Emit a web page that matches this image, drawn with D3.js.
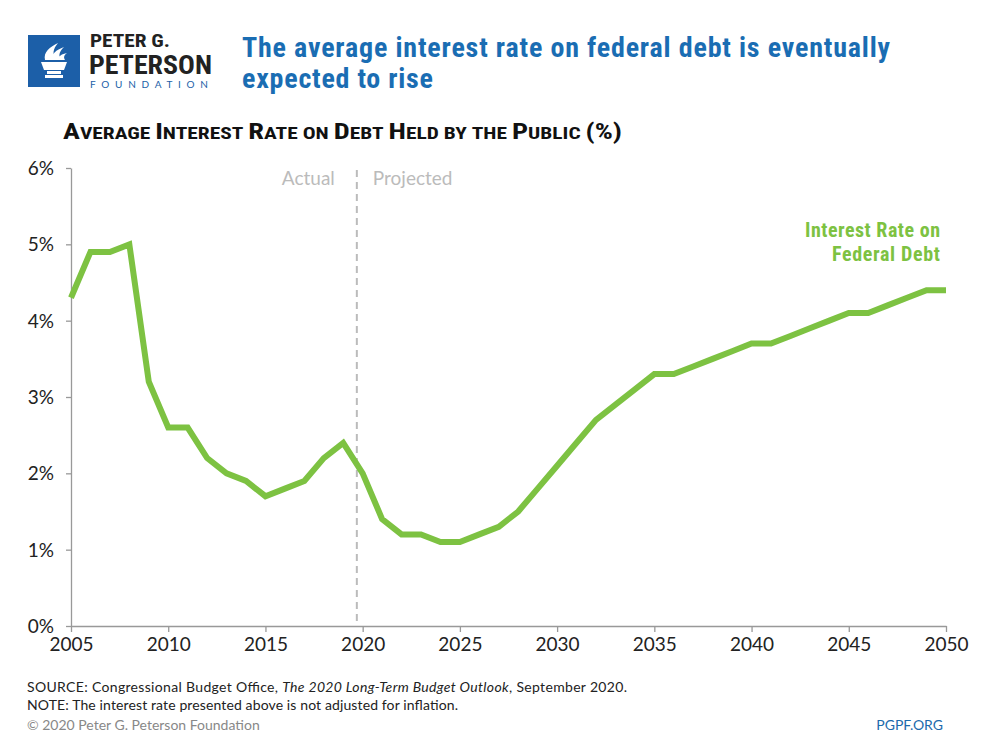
<!DOCTYPE html>
<html><head><meta charset="utf-8">
<script src="https://cdn.jsdelivr.net/npm/d3@7"></script>
<style>body{margin:0;background:#fff}svg{display:block}</style>
</head><body>
<script>
const years = d3.range(2005, 2051);
const rates = [4.3,4.9,4.9,5.0,3.2,2.6,2.6,2.2,2.0,1.9,1.7,1.8,1.9,2.2,2.4,2.0,1.4,1.2,1.2,1.1,1.1,1.2,1.3,1.5,1.8,2.1,2.4,2.7,2.9,3.1,3.3,3.3,3.4,3.5,3.6,3.7,3.7,3.8,3.9,4.0,4.1,4.1,4.2,4.3,4.4,4.4];
const xTicks = [2005,2010,2015,2020,2025,2030,2035,2040,2045,2050];
const yTicks = [0,1,2,3,4,5,6];
const dividerYear = 2019.7;

const W=1000,H=750;
const svg=d3.select("body").append("svg").attr("width",W).attr("height",H);
const x=d3.scaleLinear().domain([2005,2050]).range([71,946]);
const y=d3.scaleLinear().domain([0,6]).range([626,168]);
const cond="'Liberation Sans Narrow','Roboto Condensed',sans-serif";
const sans="Lato,'Open Sans',sans-serif";

// Logo
const lg=svg.append("g");
lg.append("rect").attr("x",28).attr("y",35).attr("width",52).attr("height",52).attr("fill","#1c5fa8");
lg.append("path").attr("d","M41,62 L67,62 L64,70 L44,70 Z").attr("fill","#fff");
lg.append("rect").attr("x",47).attr("y",71).attr("width",14).attr("height",3).attr("fill","#fff");
lg.append("rect").attr("x",45).attr("y",75).attr("width",18).attr("height",3).attr("fill","#fff");
lg.append("path").attr("d","M45,60 C43,52 50,47 58,43 C53,49 52,54 56,60 Z").attr("fill","#fff");
lg.append("path").attr("d","M52,60 C51,54 56,50 64,47 C58,53 59,56 61,60 Z").attr("fill","#fff");
lg.append("path").attr("d","M58,60 C58,56 62,54 67,53 C63,56 64,58 65,60 Z").attr("fill","#fff");
lg.append("text").attr("x",90).attr("y",47).attr("font-family",cond).attr("font-weight","bold").attr("font-size",18.5).attr("fill","#222").attr("textLength",80).attr("lengthAdjust","spacingAndGlyphs").text("PETER G.");
lg.append("text").attr("x",89).attr("y",74).attr("font-family",cond).attr("font-weight","bold").attr("font-size",26).attr("fill","#222").attr("textLength",123).attr("lengthAdjust","spacingAndGlyphs").text("PETERSON");
lg.append("text").attr("x",90).attr("y",88).attr("font-family",sans).attr("font-size",10).attr("fill","#1c5fa8").attr("textLength",121).attr("letter-spacing",3).text("FOUNDATION");

// Title
svg.append("text").attr("x",242).attr("y",57).attr("font-family",cond).attr("font-weight","bold").attr("font-size",28).attr("fill","#1a6db3").attr("textLength",648).text("The average interest rate on federal debt is eventually");
svg.append("text").attr("x",242).attr("y",88).attr("font-family",cond).attr("font-weight","bold").attr("font-size",28).attr("fill","#1a6db3").attr("textLength",191).text("expected to rise");

// Subtitle (manual small caps)
const subtitle="Average Interest Rate on Debt Held by the Public (%)";
const st=svg.append("text").attr("x",63).attr("y",139).attr("font-family",cond).attr("font-weight","bold").attr("fill","#111").attr("textLength",559).attr("lengthAdjust","spacingAndGlyphs");
subtitle.split("").forEach(ch=>{
  const big = ch!==ch.toLowerCase() || /[()%]/.test(ch);
  st.append("tspan").attr("font-size",big?22.5:17).text(ch===" "?"\u00a0":ch.toUpperCase());
});

// Axes
const ya=svg.append("g").attr("transform","translate(71,0)").call(d3.axisLeft(y).tickValues(yTicks).tickFormat(d=>d+"%").tickSize(5).tickSizeOuter(0));
const xa=svg.append("g").attr("transform","translate(0,626)").call(d3.axisBottom(x).tickValues(xTicks).tickFormat(d3.format("d")).tickSize(6).tickSizeOuter(0));
[ya,xa].forEach(a=>{a.selectAll("path,line").attr("stroke","#999").attr("stroke-width",1.3);
 a.selectAll("text").attr("font-family",sans).attr("font-size",19).attr("fill","#222");});
ya.selectAll("text").attr("x",-17).attr("dy","0.35em");
xa.selectAll("text").attr("y",12).attr("dy","0.71em");

// Divider
svg.append("line").attr("x1",x(dividerYear)).attr("x2",x(dividerYear)).attr("y1",170).attr("y2",626).attr("stroke","#bbb").attr("stroke-width",2).attr("stroke-dasharray","7,5");
svg.append("text").attr("x",x(dividerYear)-22).attr("y",185).attr("text-anchor","end").attr("font-family",sans).attr("font-size",19).attr("fill","#bbb").text("Actual");
svg.append("text").attr("x",x(dividerYear)+16).attr("y",185).attr("font-family",sans).attr("font-size",19).attr("fill","#bbb").text("Projected");

// Line
const line=d3.line().x((d,i)=>x(years[i])).y(d=>y(d));
svg.append("path").datum(rates).attr("d",line).attr("fill","none").attr("stroke","#7dc242").attr("stroke-width",6).attr("stroke-linejoin","miter");

svg.append("text").attr("x",940).attr("y",237).attr("text-anchor","end").attr("font-family",cond).attr("font-weight","bold").attr("font-size",20).attr("fill","#7dc242").attr("textLength",135).text("Interest Rate on");
svg.append("text").attr("x",940).attr("y",261).attr("text-anchor","end").attr("font-family",cond).attr("font-weight","bold").attr("font-size",20).attr("fill","#7dc242").attr("textLength",108).text("Federal Debt");

// Footer
const ft=svg.append("text").attr("x",27).attr("y",692).attr("font-family",sans).attr("font-size",14).attr("fill","#222").attr("textLength",600);
ft.append("tspan").text("SOURCE: Congressional Budget Office, ");
ft.append("tspan").attr("font-style","italic").text("The 2020 Long-Term Budget Outlook");
ft.append("tspan").text(", September 2020.");
svg.append("text").attr("x",27).attr("y",710).attr("font-family",sans).attr("font-size",14).attr("fill","#222").attr("textLength",431).text("NOTE: The interest rate presented above is not adjusted for inflation.");
svg.append("text").attr("x",27).attr("y",730).attr("font-family",sans).attr("font-size",14).attr("fill","#888").text("© 2020 Peter G. Peterson Foundation");
svg.append("text").attr("x",943).attr("y",730).attr("text-anchor","end").attr("font-family",sans).attr("font-size",14).attr("fill","#1c6aad").text("PGPF.ORG");
</script>
</body></html>
